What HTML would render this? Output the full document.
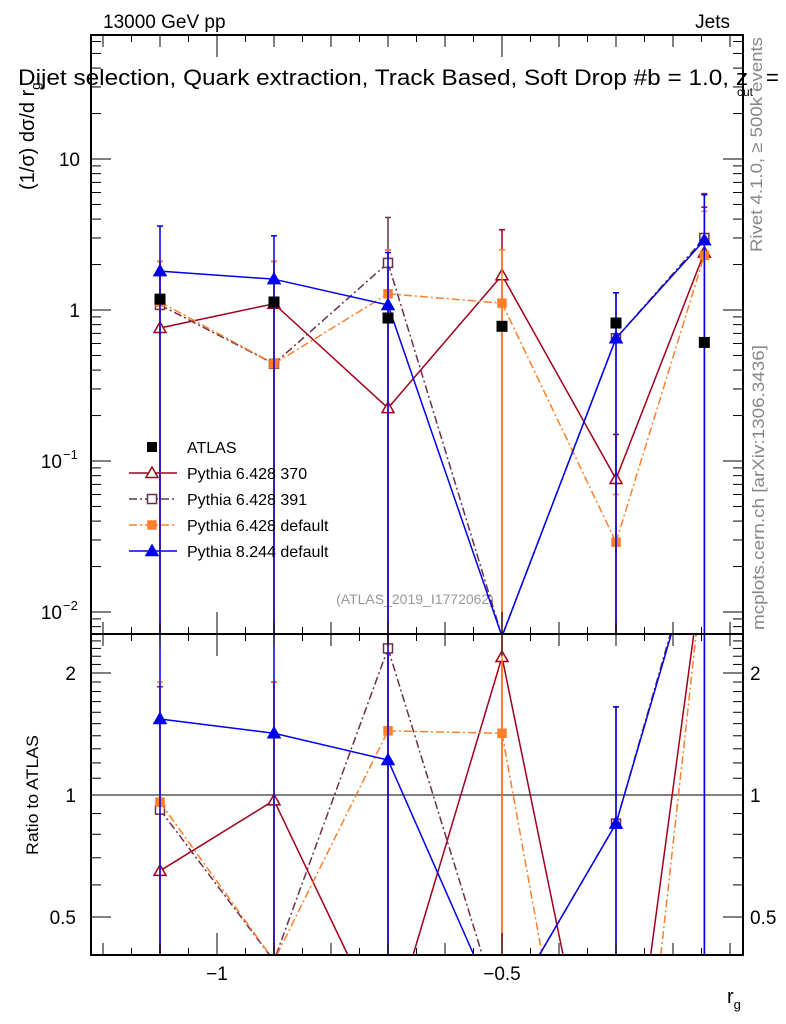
<!DOCTYPE html>
<html><head><meta charset="utf-8"><style>
html,body{margin:0;padding:0;background:#fff;overflow:hidden;width:786px;height:1024px}
svg{display:block}
svg text{font-family:"Liberation Sans",sans-serif}
</style></head><body>
<svg id="c" width="786" height="1024" viewBox="0 0 786 1024" xmlns="http://www.w3.org/2000/svg">
<text x="103" y="28" font-size="19">13000 GeV pp</text>
<text x="730" y="28" font-size="19" text-anchor="end">Jets</text>
<text x="18" y="85" font-size="22" textLength="730" lengthAdjust="spacingAndGlyphs">Dijet selection, Quark extraction, Track Based, Soft Drop #b = 1.0, z</text>
<text x="766" y="85" font-size="22">=</text>
<text x="737" y="96" font-size="12">cut</text>
<text transform="translate(34,190) rotate(-90)" font-size="20">(1/σ) dσ/d r<tspan font-size="13" dy="6">g</tspan></text>
<text transform="translate(38,795) rotate(-90)" font-size="17" text-anchor="middle" textLength="120" lengthAdjust="spacingAndGlyphs">Ratio to ATLAS</text>
<text transform="translate(762,252) rotate(-90)" font-size="17" fill="#888" textLength="215" lengthAdjust="spacingAndGlyphs">Rivet 4.1.0, ≥ 500k events</text>
<text transform="translate(764,630) rotate(-90)" font-size="17" fill="#888" textLength="285" lengthAdjust="spacingAndGlyphs">mcplots.cern.ch [arXiv:1306.3436]</text>
<text x="415" y="604" font-size="14" fill="#999" text-anchor="middle">(ATLAS_2019_I1772062)</text>
<text x="727" y="1003" font-size="20">r<tspan font-size="13" dy="6">g</tspan></text>
<g id="g"></g>
</svg>
<script>
const xVals=[-1.1,-0.9,-0.7,-0.5,-0.3,-0.145];
const atlas=[1.18,1.13,0.885,0.78,0.82,0.61];
const p370=[0.76,1.1,0.224,1.7,0.076,2.4];
const p391=[1.08,0.44,2.05,0.0069,0.65,3.0];
const pdef=[1.13,0.44,1.28,1.11,0.029,2.3];
const p8=[1.81,1.6,1.08,0.0069,0.65,2.9];
const p370Hi=[2.1,2.1,2.5,3.4,0.15,4.8];
const p391Hi=[2.1,2.1,4.1,0.007,1.3,5.9];
const pdefHi=[2.1,2.1,2.5,2.5,0.06,4.5];
const p8Hi=[3.6,3.1,2.4,0.007,1.3,5.8];
const r370=[0.65,0.97,0.25,2.19,0.093,3.9];
const r391=[0.92,0.39,2.3,0.28,0.85,4.9];
const rdef=[0.96,0.39,1.44,1.42,0.04,3.8];
const r8=[1.54,1.42,1.22,0.28,0.85,4.75];
const r370Hi=[1.85,1.9,2.9,4.3,0.18,7.8];
const r391Hi=[1.85,1.9,4.6,0.3,1.65,9.6];
const rdefHi=[1.9,1.9,2.8,3.2,0.08,7.4];
const r8Hi=[3.0,2.8,2.7,0.3,1.65,9.5];
const mainTicks=[10,1,0.1,0.01];
const mainTickLabels=["10","1","10","10"];
const mainTickExp=["","","−1","−2"];
const ratioTicks=[2,1,0.5];
const ratioTickLabels=["2","1","0.5"];
const xTicks=[-1,-0.5];
const xTickLabels=["−1","−0.5"];

const L=91,R=743,T=35,MB=634,RB=955;
const NS="http://www.w3.org/2000/svg";
const g=document.getElementById('g');
function X(v){return 217+(v+1)*570;}
function Y(v){return 310-Math.log10(v)*151;}
function YR(v){return 795-Math.log2(v)*122;}
function mk(t,a,p){const e=document.createElementNS(NS,t);for(const k in a)e.setAttribute(k,a[k]);(p||g).appendChild(e);return e;}
function cl(y,a,b){return Math.max(a,Math.min(b,y));}
// draw polyline segments clipped to [y0,y1]
function clippedLine(p,pts,y0,y1,attrs){
 for(let i=0;i<pts.length-1;i++){let [xa,ya]=pts[i],[xb,yb]=pts[i+1];
  if((ya<y0&&yb<y0)||(ya>y1&&yb>y1))continue;
  function at(y){return xa+(xb-xa)*(y-ya)/(yb-ya);}
  let A=[xa,ya],B=[xb,yb];
  if(ya<y0)A=[at(y0),y0];if(ya>y1)A=[at(y1),y1];
  if(yb<y0)B=[at(y0),y0];if(yb>y1)B=[at(y1),y1];
  const a=Object.assign({x1:A[0],y1:A[1],x2:B[0],y2:B[1]},attrs);mk('line',a,p);}
}
const gm=mk('g',{});


const gr=mk('g',{});



const fm=mk('rect',{x:L,y:T,width:R-L,height:MB-T,fill:'none',stroke:'#000','stroke-width':2});


const fr=mk('rect',{x:L,y:MB,width:R-L,height:RB-MB,fill:'none',stroke:'#000','stroke-width':2});



for(let d=-3;d<=2;d++){for(let m=1;m<10;m++){const v=m*Math.pow(10,d);const y=Y(v);if(y<T||y>MB)continue;const len=m==1?20:10;
mk('line',{x1:L,x2:L+len,y1:y,y2:y,stroke:'#000'});mk('line',{x1:R,x2:R-len,y1:y,y2:y,stroke:'#000'});}}
mainTicks.forEach((v,i)=>{const t=mk('text',{x:mainTickExp[i]?62:80,y:Y(v)+7,'font-size':19,'text-anchor':'end'});t.textContent=mainTickLabels[i];


if(mainTickExp[i]){const s=mk('text',{x:63,y:Y(v)-2,'font-size':13});s.textContent=mainTickExp[i];}});
[0.4,0.5,0.6,0.7,0.8,0.9,1,1.1,1.2,1.3,1.4,1.5,1.6,1.7,1.8,1.9,2,2.1,2.2,2.3,2.4].forEach(v=>{const y=YR(v);if(y<MB||y>RB)return;const len=(v==0.5||v==1||v==2)?20:10;
mk('line',{x1:L,x2:L+len,y1:y,y2:y,stroke:'#000'});mk('line',{x1:R,x2:R-len,y1:y,y2:y,stroke:'#000'});});
ratioTicks.forEach((v,i)=>{[76,750].forEach((x,j)=>{const t=mk('text',{x:x,y:YR(v)+7,'font-size':19,'text-anchor':j?'start':'end'});t.textContent=ratioTickLabels[i];

});});
for(let k=-24;k<=0;k++){const v=k*0.05;const x=X(v);if(x<L||x>R)continue;const big=Math.abs(v*2-Math.round(v*2))<1e-6;const len=big?22:(Math.abs(v*10-Math.round(v*10))<1e-6?12:7);
[T,MB].forEach(y0=>mk('line',{x1:x,x2:x,y1:y0,y2:y0+len,stroke:'#000'}));[MB,RB].forEach(y0=>mk('line',{x1:x,x2:x,y1:y0,y2:y0-len,stroke:'#000'}));}
xTicks.forEach((v,i)=>{const t=mk('text',{x:X(v),y:980,'font-size':19,'text-anchor':'middle'});t.textContent=xTickLabels[i];

});
mk('line',{x1:L,x2:R,y1:YR(1),y2:YR(1),stroke:'#000'},gr);

const series=[
 {name:'pythia-6428-370',vals:p370,hi:p370Hi,rat:r370,rhi:r370Hi,col:'#a0001a',dash:'',m:'tri-open'},
 {name:'pythia-6428-391',vals:p391,hi:p391Hi,rat:r391,rhi:r391Hi,col:'#6b3049',dash:'8,3,2,3',m:'sq-open'},
 {name:'pythia-6428-default',vals:pdef,hi:pdefHi,rat:rdef,rhi:rdefHi,col:'#ff7f2a',dash:'8,3,2,3',m:'sq'},
 {name:'pythia-8244-default',vals:p8,hi:p8Hi,rat:r8,rhi:r8Hi,col:'#0000ee',dash:'',m:'tri'}];
function marker(p,m,col,x,y){
 if(m.startsWith('tri')){return mk('polygon',{points:`${x},${y-6} ${x-6},${y+4.5} ${x+6},${y+4.5}`,fill:m=='tri'?col:'#fff',stroke:col,'stroke-width':1.5},p);}
 const s=m=='sq'?8:9;return mk('rect',{x:x-s/2,y:y-s/2,width:s,height:s,fill:m=='sq'?col:'#fff',stroke:col,'stroke-width':1.5},p);}
function drawPanel(p,name,vals,his,yf,y0,y1,s){
 vals.forEach((v,i)=>{const x=X(xVals[i]);const yh=cl(yf(his[i]),y0,y1);mk('line',{x1:x,x2:x,y1:yh,y2:y1,stroke:s.col,'stroke-width':1.5},p);
  if(yf(his[i])>=y0)mk('line',{x1:x-3,x2:x+3,y1:yh,y2:yh,stroke:s.col,'stroke-width':1.5},p);});
 clippedLine(p,vals.map((v,i)=>[X(xVals[i]),yf(v)]),y0,y1,{stroke:s.col,'stroke-width':1.5,'stroke-dasharray':s.dash});
 vals.forEach((v,i)=>{const y=yf(v);if(y<y0-2||y>y1+2)return;const e=marker(p,s.m,s.col,X(xVals[i]),y);});
}
series.forEach(s=>{
 const gs=mk('g',{},gm);
 drawPanel(gs,s.name+'-point',s.vals,s.hi,Y,T,MB,s);
 const gq=mk('g',{},gr);
 drawPanel(gq,s.name+'-ratio-point',s.rat,s.rhi,YR,MB,RB,s);
});
const ga=mk('g',{},gm);
atlas.forEach((v,i)=>{const e=mk('rect',{x:X(xVals[i])-5.5,y:Y(v)-5.5,width:11,height:11,fill:'#000'},ga);});

const lg=mk('g',{});
const le=[{n:'ATLAS',col:'#000',m:'atlas',dash:''}].concat(series.map((s,i)=>({n:['Pythia 6.428 370','Pythia 6.428 391','Pythia 6.428 default','Pythia 8.244 default'][i],col:s.col,m:s.m,dash:s.dash})));
le.forEach((e,i)=>{const y=447+i*26;const gi=mk('g',{},lg);
 if(e.m=='atlas'){mk('rect',{x:147,y:y-5,width:10,height:10,fill:'#000'},gi);}
 else{mk('line',{x1:129,x2:177,y1:y,y2:y,stroke:e.col,'stroke-width':1.5,'stroke-dasharray':e.dash},gi);marker(gi,e.m,e.col,152,y);}
 const t=mk('text',{x:187,y:y+6,'font-size':16},gi);t.textContent=e.n;});
</script>
</body></html>
